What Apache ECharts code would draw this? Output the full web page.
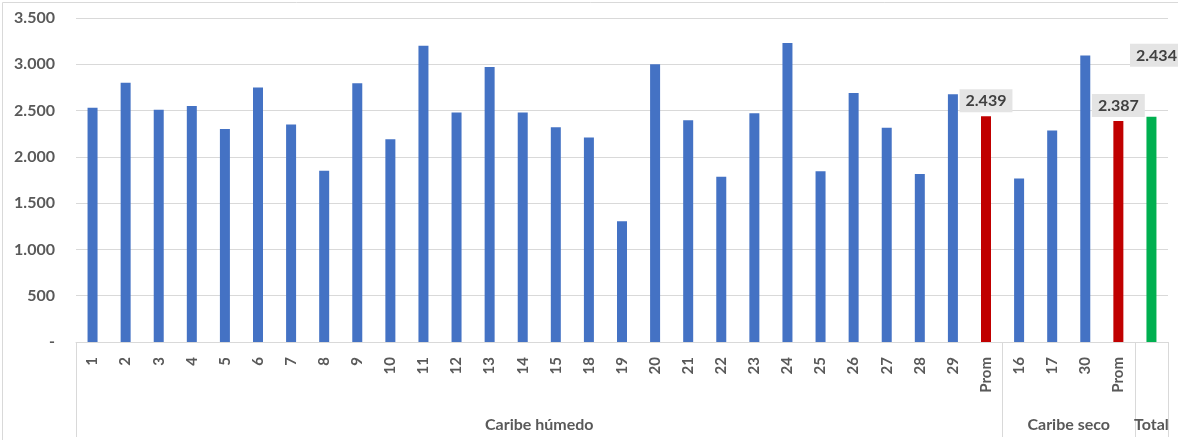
<!DOCTYPE html>
<html><head><meta charset="utf-8">
<script src="https://cdn.jsdelivr.net/npm/echarts@6/dist/echarts.min.js"></script>
<style>html,body{margin:0;padding:0;background:#fff}#c{width:1178px;height:440px}</style>
</head><body><div id="c"></div>
<script>
const humidCats = ['1','2','3','4','5','6','7','8','9','10','11','12','13','14','15','18','19','20','21','22','23','24','25','26','27','28','29'];
const humidVals = [2530,2800,2510,2550,2300,2750,2350,1850,2795,2190,3200,2480,2970,2480,2320,2210,1305,3000,2395,1785,2470,3230,1845,2690,2315,1815,2675];
const humidProm = 2439;
const secoCats = ['16','17','30'];
const secoVals = [1765,2285,3095];
const secoProm = 2387;
const totalVal = 2434;
const groupNames = ['Caribe húmedo','Caribe seco','Total'];
const yTicks = [0,500,1000,1500,2000,2500,3000,3500];

const BLUE='#4472c4', RED='#c00000', GREEN='#00b050';
const FONT='Lato';
const cats=[], data=[];
humidCats.forEach((c,i)=>{cats.push(c);data.push({value:humidVals[i],itemStyle:{color:BLUE}});});
const lbl={show:true,position:'top',distance:4,fontFamily:FONT,fontWeight:'bold',fontSize:16,color:'#404040',backgroundColor:'#e4e4e4',padding:[4,6,3,6],formatter:p=>p.value.toLocaleString('de-DE')};
cats.push('Prom');data.push({value:humidProm,itemStyle:{color:RED},label:lbl});
secoCats.forEach((c,i)=>{cats.push(c);data.push({value:secoVals[i],itemStyle:{color:BLUE}});});
cats.push('Prom');data.push({value:secoProm,itemStyle:{color:RED},label:lbl});
cats.push('');data.push({value:totalVal,itemStyle:{color:GREEN},label:Object.assign({},lbl,{offset:[5,-46]})});

const nH=humidCats.length+1, nS=secoCats.length+1, N=cats.length;
const bounds=[0,nH,nH+nS,N];
const centers=[nH/2,nH+nS/2,nH+nS+0.5];

const chart=echarts.init(document.getElementById('c'),null,{renderer:'canvas'});
chart.setOption({
  animation:false,
  grid:{left:76,right:10,top:18,bottom:98},
  graphic:[{type:'rect',shape:{x:2.5,y:2.5,width:1200,height:500},style:{fill:'none',stroke:'#d9d9d9',lineWidth:1},silent:true}],
  xAxis:[{
    type:'category',data:cats,position:'bottom',
    axisLine:{lineStyle:{color:'#d9d9d9'}},axisTick:{show:false},
    axisLabel:{rotate:90,margin:15,fontFamily:FONT,fontWeight:'bold',fontSize:15,color:'#595959',interval:0}
  },{
    type:'value',min:0,max:N,position:'bottom',
    axisLine:{show:false},splitLine:{show:false},
    axisTick:{show:true,length:95,lineStyle:{color:'#d9d9d9'},customValues:bounds},
    axisLabel:{margin:75,fontFamily:FONT,fontWeight:'bold',fontSize:16,color:'#595959',customValues:centers,
      formatter:(v)=>{const i=centers.indexOf(v);return i>=0?groupNames[i]:'';}}
  }],
  yAxis:{type:'value',min:0,max:3500,interval:500,
    axisLine:{show:false},axisTick:{show:false},
    splitLine:{lineStyle:{color:'#d9d9d9'}},
    axisLabel:{margin:21,fontFamily:FONT,fontWeight:'bold',fontSize:16,color:'#595959',
      formatter:v=>v===0?'-':v.toLocaleString('de-DE')}},
  series:[{type:'bar',xAxisIndex:0,barWidth:10,data:data}]
});
</script></body></html>
